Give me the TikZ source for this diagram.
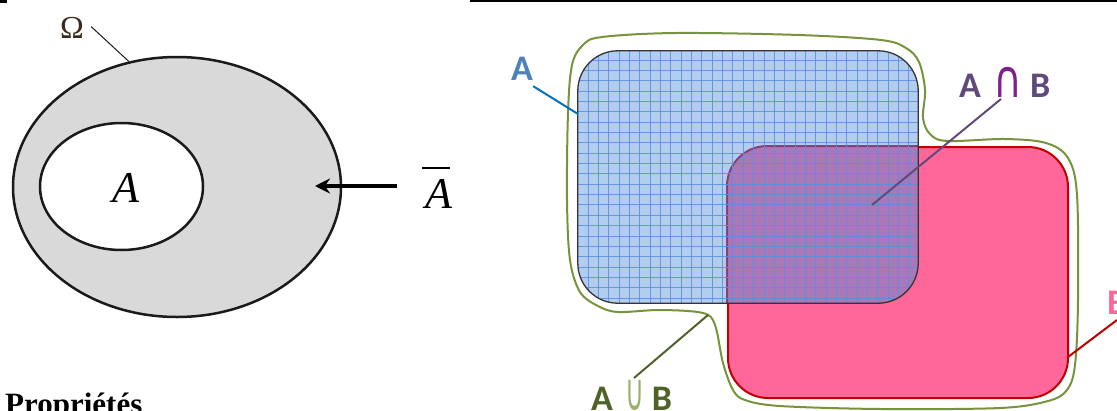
\documentclass[tikz,border=0pt]{standalone}
\usepackage{fontspec}
\usepackage{graphicx}
\setmainfont{Liberation Serif}
\newfontfamily\lblfont{Carlito}
\newfontfamily\symfont{DejaVu Sans}
\usetikzlibrary{arrows.meta,shapes.geometric}
\definecolor{ellfill}{HTML}{D9D9D9}
\definecolor{ellline}{HTML}{1A1A1A}
\definecolor{omegacol}{HTML}{3C2A1E}
\definecolor{bluefill}{HTML}{B3CDEF}
\definecolor{gridcol}{HTML}{5A8EE0}
\definecolor{redfill}{HTML}{FF6699}
\definecolor{redline}{HTML}{C00000}
\definecolor{purplefill}{HTML}{A878B8}
\definecolor{purpleline}{HTML}{8A3F7A}
\definecolor{greenline}{HTML}{77933C}
\definecolor{labA}{HTML}{4F81BD}
\definecolor{lineA}{HTML}{0070C0}
\definecolor{labAB}{HTML}{604A7B}
\definecolor{capcol}{HTML}{7F1F8F}
\definecolor{labAuB}{HTML}{4F6228}
\definecolor{cupcol}{HTML}{9BAE6A}
\tikzset{
  lbl/.style={inner sep=0pt, anchor=base west},
  setlbl/.style={lbl, font=\lblfont\bfseries\fontsize{36}{42}\selectfont},
  setbox/.style={rectangle, rounded corners=40pt, minimum width=340pt, inner sep=0pt},
  leader/.style={line width=2pt},
  gridln/.style={draw=gridcol, line width=0.9pt, opacity=0.85}
}
\begin{document}
\begin{tikzpicture}[x=1pt,y=-1pt]
\useasboundingbox (0,0) rectangle (1117,410);
% small marks at top
\fill[black] (0,0) rectangle (7,2.5);
\draw[black, line width=1.5pt] (470,0.8) -- (1117,0.8);

% ---------- left panel ----------
\node[ellipse, draw=ellline, fill=ellfill, line width=2.5pt, minimum width=328pt, minimum height=260pt, inner sep=0pt] (omega) at (177,187) {};
\node[ellipse, draw=ellline, fill=white, line width=2.5pt, minimum width=163pt, minimum height=127pt, inner sep=0pt] (setA) at (121.5,186.5) {};
\node[lbl, font=\itshape\fontsize{44}{50}\selectfont] (Ain) at (112,202) {A};
\node[lbl, font=\fontsize{32}{36}\selectfont, text=omegacol] (Om) at (60,38) {Ω};
\draw[ellline, line width=1pt] ([xshift=7pt,yshift=-10pt]Om.north east) -- (omega.111);
\node[lbl, font=\itshape\fontsize{44}{50}\selectfont] (Abar) at (425,208) {\rlap{\hspace{-3pt}\raisebox{39pt}{\rule{28pt}{1.8pt}}}A};
\coordinate (arrtail) at (397,186);
\coordinate (arrtip) at (315,186);
\draw[black, line width=4.5pt, -{Stealth[length=15pt,width=15pt,inset=5pt]}] (arrtail) -- (arrtip);

\node[lbl, font=\bfseries\fontsize{31}{36}\selectfont] (prop) at (5,414) {Propriétés};

% ---------- right panel ----------
\node[setbox, minimum height=251pt, fill=redfill, draw=redline, line width=2pt] (B) at (898,272.5) {};
\node[setbox, minimum height=252pt, fill=bluefill] (A) at (748,177) {};
\begin{scope}
  \clip[rounded corners=40pt] (A.south west) rectangle (A.north east);
  \fill[purplefill, rounded corners=40pt] (B.south west) rectangle (B.north east);
  \draw[purpleline, line width=2pt, rounded corners=40pt] (B.south west) rectangle (B.north east);
  \foreach \i in {0,...,32} {
    \draw[gridln] (588+\i*10.35,45) -- (588+\i*10.35,310);
  }
  \foreach \j in {0,...,25} {
    \draw[gridln] (570,60+\j*10.35) -- (925,60+\j*10.35);
  }
\end{scope}
\draw[black!80, line width=1.3pt, rounded corners=40pt] (A.south west) rectangle (A.north east);

% union outline
\draw[greenline, line width=2pt] plot[smooth cycle, tension=0.55] coordinates {
 (602,37) (676,33) (799,35) (881,40) (906,48) (919,62) (925,90) (923,118)
 (930,134) (947,141) (1005,139) (1046,143) (1068,158) (1077,195) (1078,300)
 (1075,365) (1067,390) (1048,401) (1000,408) (881,409) (780,406) (745,400)
 (733,390) (723,363) (715,325) (703,313) (660,310) (618,312) (598,306)
 (580,292) (570,260) (567,200) (568,113) (572,65) (583,45)};

% labels
\node[setlbl, text=labA] (labelA) at (511,80) {A};
\coordinate (pA) at (578,114);
\draw[leader, lineA] ([yshift=-6pt]labelA.south east) -- (pA);

\node[setlbl, text=labAB] (labelAB) at (959,97)
  {A\hspace{12pt}\textcolor{capcol}{\scalebox{1.1}[1.45]{\symfont\mdseries ∩}}\hspace{8pt}B};
\coordinate (pAB) at (872,205);
\draw[leader, labAB] ([xshift=42pt,yshift=-2pt]labelAB.base west) -- (pAB);

\node[setlbl, text=labAuB] (labelAuB) at (591,410)
  {A\hspace{12pt}\textcolor{cupcol}{\scalebox{0.72}[1.45]{\symfont\mdseries ∪}}\hspace{8pt}B};
\coordinate (pAuB) at (708,315);
\draw[leader, labAuB] ([xshift=43pt,yshift=32pt]labelAuB.base west) -- (pAuB);

\node[setlbl, text=redfill] (labelB) at (1107,314) {B};
\coordinate (pB) at (1068,357);
\draw[leader, redline] ([xshift=10pt,yshift=-6pt]labelB.base west) -- (pB);
\end{tikzpicture}
\end{document}
